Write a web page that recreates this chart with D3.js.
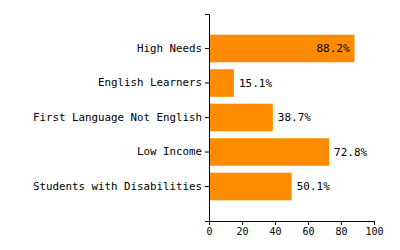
<!DOCTYPE html>
<html>
<head>
<meta charset="utf-8">
<script src="https://cdn.jsdelivr.net/npm/d3@7"></script>
<style>
    body { margin: 0; background: #fff; }
    svg text { font-family: "DejaVu Sans Mono", monospace; }
</style>
</head>
<body>
<div id="chart"></div>
<script>
'use strict';

var categories = ['High Needs', 'English Learners', 'First Language Not English', 'Low Income', 'Students with Disabilities'];
var values = [88.2, 15.1, 38.7, 72.8, 50.1];
var xTicks = [0, 20, 40, 60, 80, 100];

var width = 400,
    height = 250;
var margin = {top: 14, right: 26, bottom: 29, left: 209};

var svg = d3.select('#chart').append('svg')
    .attr('width', width)
    .attr('height', height);

var x = d3.scaleLinear()
    .domain([0, 100])
    .range([margin.left, width - margin.right]);

var y = d3.scaleBand()
    .domain(categories)
    .range([margin.top, height - margin.bottom])
    .paddingInner(0.2)
    .paddingOuter(0.6);

var data = categories.map(function(c, i) { return {name: c, value: values[i]}; });

svg.selectAll('rect.bar')
    .data(data)
    .enter().append('rect')
    .attr('class', 'bar')
    .attr('x', x(0))
    .attr('y', function(d) { return y(d.name); })
    .attr('width', function(d) { return x(d.value) - x(0); })
    .attr('height', y.bandwidth())
    .attr('fill', '#ff8c00');

svg.selectAll('text.val')
    .data(data)
    .enter().append('text')
    .attr('class', 'val')
    .attr('x', function(d) { return d.value > 80 ? x(d.value) - 5 : x(d.value) + 5; })
    .attr('y', function(d) { return y(d.name) + y.bandwidth() / 2; })
    .attr('dy', '0.35em')
    .attr('text-anchor', function(d) { return d.value > 80 ? 'end' : 'start'; })
    .style('font-size', '11px')
    .attr('fill', '#000')
    .text(function(d) { return d.value.toFixed(1) + '%'; });

var yAxis = svg.append('g')
    .attr('transform', 'translate(' + margin.left + ',0)')
    .call(d3.axisLeft(y).tickSize(4).tickPadding(3).tickSizeOuter(4));
yAxis.selectAll('text').style('font-size', '10.8px').attr('fill', '#000');

var xAxis = svg.append('g')
    .attr('transform', 'translate(0,' + (height - margin.bottom) + ')')
    .call(d3.axisBottom(x).tickValues(xTicks).tickSize(4).tickPadding(3).tickSizeOuter(4));
xAxis.selectAll('text').style('font-size', '10px').attr('fill', '#000');
</script>
</body>
</html>
